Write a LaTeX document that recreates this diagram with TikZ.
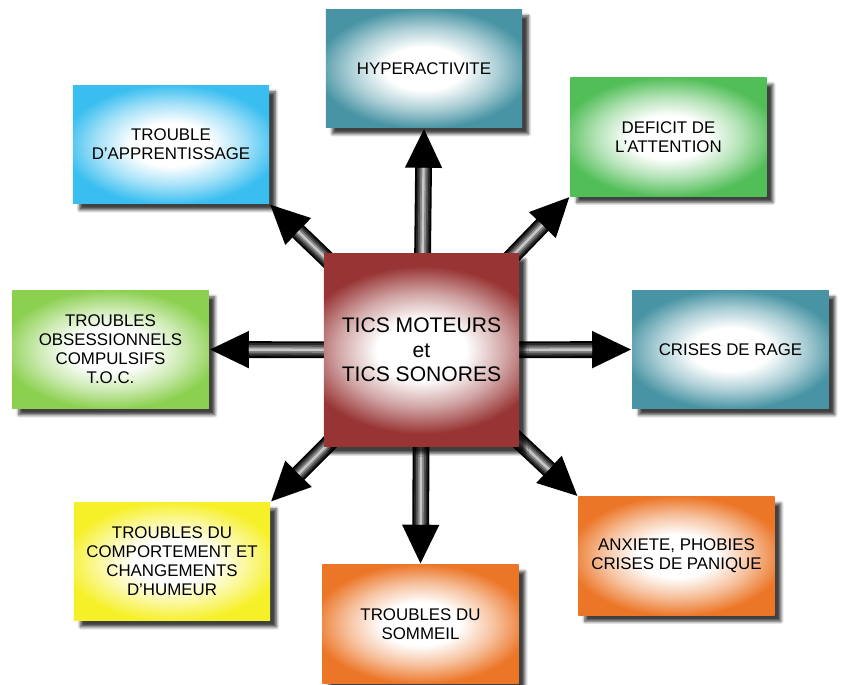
\documentclass[tikz,border=0pt]{standalone}
\usepackage{fontspec}
\setmainfont{Liberation Sans}
\usetikzlibrary{arrows.meta,shadows.blur,backgrounds}

\definecolor{tealbox}{RGB}{72,148,164}
\definecolor{greenbox}{RGB}{82,190,88}
\definecolor{bluebox}{RGB}{58,190,240}
\definecolor{limebox}{RGB}{140,208,80}
\definecolor{yellowbox}{RGB}{246,240,40}
\definecolor{orangebox}{RGB}{236,118,40}
\definecolor{redbox}{RGB}{152,52,52}

\colorlet{boxc}{white}
\pgfdeclareradialshading[boxc]{fade}{\pgfpoint{0bp}{0bp}}{color(0bp)=(white); color(9bp)=(white); color(17bp)=(boxc!45!white); color(25bp)=(boxc); color(50bp)=(boxc)}

\tikzset{
  boxcolor/.code={\colorlet{boxc}{#1}},
  glow/.style 2 args={path picture={
    \fill[boxc] (path picture bounding box.south west) rectangle (path picture bounding box.north east);
    \shade[shading=fade] ([shift={(-#1,-#2)}]path picture bounding box.center)
      rectangle ([shift={(#1,#2)}]path picture bounding box.center);}},
  box/.style={glow={2.7cm}{1.5cm}, minimum width=4.9cm, minimum height=2.95cm, inner sep=0pt,
    align=center, font=\fontsize{12}{13.5}\selectfont,
    blur shadow={shadow xshift=0.16cm, shadow yshift=-0.16cm, shadow blur steps=6, shadow opacity=75}},
  fatarrow/.style={line width=0.42cm, black, -{Triangle[width=0.85cm,length=1cm]},
    postaction={draw, -, line width=0.33cm, black!85, shorten >=1cm},
    postaction={draw, -, line width=0.24cm, black!68, shorten >=1cm},
    postaction={draw, -, line width=0.15cm, black!48, shorten >=1cm},
    postaction={draw, -, line width=0.06cm, black!22, shorten >=1cm}}
}

\begin{document}
\begin{tikzpicture}[x=0.025cm, y=-0.025cm]
\useasboundingbox (0,0) rectangle (841,684);
\node[box, boxcolor=redbox, glow={3.1cm}{2.1cm}, minimum width=4.88cm, minimum height=4.85cm,
  font=\fontsize{15}{17.5}\selectfont] (ctr) at (421.5,350) {TICS MOTEURS\\et\\TICS SONORES}; % centre
\node[box, boxcolor=tealbox] (hyper) at (424,68.5) {HYPERACTIVITE};
\node[box, boxcolor=greenbox] (defi) at (668.5,137) {DEFICIT DE\\L'ATTENTION};
\node[box, boxcolor=tealbox] (rage) at (730.5,349.5) {CRISES DE RAGE};
\node[box, boxcolor=orangebox] (anx) at (676.5,556) {ANXIETE, PHOBIES\\CRISES DE PANIQUE};
\node[box, boxcolor=orangebox] (somm) at (420.5,624) {TROUBLES DU\\SOMMEIL};
\node[box, boxcolor=yellowbox] (comp) at (172,561.5) {TROUBLES DU\\COMPORTEMENT ET\\CHANGEMENTS\\D'HUMEUR};
\node[box, boxcolor=limebox] (toc) at (110.5,349.5) {TROUBLES\\OBSESSIONNELS\\COMPULSIFS\\T.O.C.};
\node[box, boxcolor=bluebox] (appr) at (171,144.5) {TROUBLE\\D'APPRENTISSAGE};
\begin{scope}[on background layer]
\draw[fatarrow] (ctr.center) -- (hyper.south); % haut
\draw[fatarrow] (ctr.center) -- (defi.south west);
\draw[fatarrow] (ctr.center) -- (rage.west);
\draw[fatarrow] (ctr.center) -- (anx.north west);
\draw[fatarrow] (ctr.center) -- (somm.north); % bas
\draw[fatarrow] (ctr.center) -- (comp.north east);
\draw[fatarrow] (ctr.center) -- (toc.east);
\draw[fatarrow] (ctr.center) -- (appr.south east);
\end{scope}
\end{tikzpicture}
\end{document}
